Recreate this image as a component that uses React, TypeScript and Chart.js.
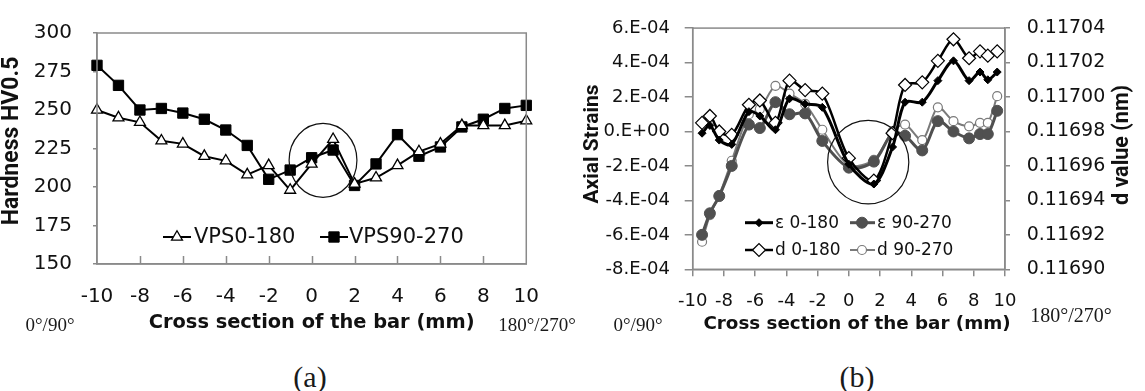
import React, { useEffect, useRef } from 'react';
import { Chart, registerables } from 'chart.js';

Chart.register(...registerables);

// ---------------- (a) hardness profile ----------------
const hardnessPositions = [-10, -9, -8, -7, -6, -5, -4, -3, -2, -1, 0, 1, 2, 3, 4, 5, 6, 7, 8, 9, 10];
const hardnessVps0_180 = [250, 245, 242, 230, 228, 220, 217, 208, 214, 198, 215, 231, 202, 206, 214, 223, 228, 240, 240, 240, 243];
const hardnessVps90_270 = [279, 266, 250, 251, 248, 244, 237, 227, 205, 211, 219, 224, 201, 215, 234, 220, 226, 239, 244, 251, 253];
const hardnessXTicks = [-10, -8, -6, -4, -2, 0, 2, 4, 6, 8, 10];
const hardnessYTicks = [150, 175, 200, 225, 250, 275, 300];

// ---------------- (b) axial strains / d value ----------------
const strainPositions = [-9.4, -8.9, -8.3, -7.5, -6.4, -5.7, -4.7, -3.8, -2.8, -1.7, 0.0, 1.6, 2.8, 3.6, 4.7, 5.7, 6.7, 7.7, 8.4, 8.9, 9.5];
const strainEps0_180 = [-0.1e-4, 0.35e-4, -0.5e-4, -0.75e-4, 1.15e-4, 0.9e-4, 0.1e-4, 1.9e-4, 1.6e-4, 1.4e-4, -1.9e-4, -3.05e-4, -0.9e-4, 1.7e-4, 1.7e-4, 2.95e-4, 4.1e-4, 2.95e-4, 3.45e-4, 3.0e-4, 3.45e-4];
const strainEps90_270 = [-6.0e-4, -4.75e-4, -3.75e-4, -2.0e-4, 0.4e-4, 0.2e-4, 1.7e-4, 1.0e-4, 1.05e-4, -0.55e-4, -2.1e-4, -1.75e-4, -0.1e-4, -0.25e-4, -1.1e-4, 0.6e-4, 0.0, -0.4e-4, -0.15e-4, -0.15e-4, 1.2e-4];
const dValue0_180 = [0.116985, 0.116989, 0.11698, 0.116978, 0.1169955, 0.116998, 0.116985, 0.1170095, 0.117004, 0.117002, 0.1169645, 0.1169515, 0.116979, 0.117007, 0.1170085, 0.117021, 0.1170335, 0.1170225, 0.1170265, 0.117024, 0.1170265];
const dValue90_270 = [0.116916, 0.1169315, 0.116943, 0.116963, 0.11699, 0.116993, 0.1170065, 0.117002, 0.116996, 0.116981, 0.1169605, 0.1169635, 0.11698, 0.116984, 0.116975, 0.116994, 0.116986, 0.116983, 0.116985, 0.116985, 0.1170005];
const strainXTicks = [-10, -8, -6, -4, -2, 0, 2, 4, 6, 8, 10];
const strainYTicks = [-8e-4, -6e-4, -4e-4, -2e-4, 0, 2e-4, 4e-4, 6e-4];
const strainYTickLabels = ['-8.E-04', '-6.E-04', '-4.E-04', '-2.E-04', '0.E+00', '2.E-04', '4.E-04', '6.E-04'];
const dValueTicks = [0.1169, 0.11692, 0.11694, 0.11696, 0.11698, 0.117, 0.11702, 0.11704];
const dValueTickLabels = ['0.11690', '0.11692', '0.11694', '0.11696', '0.11698', '0.11700', '0.11702', '0.11704'];

const FRAME = '#8a8a8a';
const TEXT = '#111';

function drawMarker(ctx: CanvasRenderingContext2D, style: string, x: number, y: number, r: number, fill: string, stroke: string, lw: number) {
  ctx.save();
  ctx.beginPath();
  if (style === 'circle') {
    ctx.arc(x, y, r, 0, Math.PI * 2);
  } else if (style === 'rect') {
    const s = r * Math.SQRT1_2;
    ctx.rect(x - s, y - s, 2 * s, 2 * s);
  } else if (style === 'rectRot') {
    ctx.moveTo(x - r, y);
    ctx.lineTo(x, y - r);
    ctx.lineTo(x + r, y);
    ctx.lineTo(x, y + r);
    ctx.closePath();
  } else if (style === 'triangle') {
    for (let k = 0; k < 3; k++) {
      const ang = (k * 2 * Math.PI) / 3;
      const px = x + Math.sin(ang) * r;
      const py = y - Math.cos(ang) * r;
      if (k === 0) ctx.moveTo(px, py);
      else ctx.lineTo(px, py);
    }
    ctx.closePath();
  }
  ctx.fillStyle = fill;
  ctx.fill();
  if (lw > 0) {
    ctx.lineWidth = lw;
    ctx.strokeStyle = stroke;
    ctx.stroke();
  }
  ctx.restore();
}

type LegendItem = { index: number; x1: number; x2: number; mx: number; tx: number; y: number };
type RotTitle = { text: string; x: number; y: number; font: string };
type OverlayCfg = {
  yAxis: string;
  innerXTicks?: number[];
  ellipse: { cx: number; cy: number; rx: number; ry: number };
  legend: LegendItem[];
  legendFont: string;
  rotTitles: RotTitle[];
  xTitle?: { text: string; x: number; y: number; font: string };
};

function makeOverlay(cfg: OverlayCfg) {
  return {
    id: 'overlay',
    afterDraw(chart: any) {
      const { ctx, chartArea: a, scales } = chart;
      const xs = scales.x;
      const ys = scales[cfg.yAxis];
      ctx.save();
      // frame
      ctx.strokeStyle = FRAME;
      ctx.lineWidth = 1.5;
      ctx.strokeRect(a.left, a.top, a.right - a.left, a.bottom - a.top);
      // inside tick marks
      if (cfg.innerXTicks) {
        ctx.beginPath();
        cfg.innerXTicks.forEach((v) => {
          const px = Math.round(xs.getPixelForValue(v)) + 0.5;
          ctx.moveTo(px, a.bottom);
          ctx.lineTo(px, a.bottom - 8);
        });
        ctx.stroke();
      }
      // highlight ellipse
      const e = cfg.ellipse;
      const cx = xs.getPixelForValue(e.cx);
      const cy = ys.getPixelForValue(e.cy);
      const rx = Math.abs(xs.getPixelForValue(e.cx + e.rx) - cx);
      const ry = Math.abs(ys.getPixelForValue(e.cy + e.ry) - cy);
      ctx.beginPath();
      ctx.ellipse(cx, cy, rx, ry, 0, 0, Math.PI * 2);
      ctx.strokeStyle = '#111';
      ctx.lineWidth = 1.2;
      ctx.stroke();
      // legend
      ctx.font = cfg.legendFont;
      ctx.textAlign = 'left';
      ctx.textBaseline = 'middle';
      cfg.legend.forEach((it) => {
        const ds = chart.data.datasets[it.index];
        ctx.beginPath();
        ctx.moveTo(it.x1, it.y);
        ctx.lineTo(it.x2, it.y);
        ctx.strokeStyle = ds.borderColor;
        ctx.lineWidth = ds.borderWidth;
        ctx.stroke();
        drawMarker(ctx, ds.pointStyle, it.mx, it.y, ds.pointRadius, ds.pointBackgroundColor, ds.pointBorderColor, ds.pointBorderWidth);
        ctx.fillStyle = TEXT;
        ctx.fillText(ds.label, it.tx, it.y + 1);
      });
      // horizontal axis title
      if (cfg.xTitle) {
        ctx.font = cfg.xTitle.font;
        ctx.textAlign = 'center';
        ctx.textBaseline = 'middle';
        ctx.fillStyle = TEXT;
        ctx.fillText(cfg.xTitle.text, cfg.xTitle.x, cfg.xTitle.y);
      }
      // rotated axis titles
      cfg.rotTitles.forEach((t) => {
        ctx.save();
        ctx.translate(t.x, t.y);
        ctx.rotate(-Math.PI / 2);
        ctx.font = t.font;
        ctx.textAlign = 'center';
        ctx.textBaseline = 'middle';
        ctx.fillStyle = TEXT;
        ctx.fillText(t.text, 0, 0);
        ctx.restore();
      });
      ctx.restore();
    },
  };
}

const serifLabels = [
  { text: '0°/90°', cx: 50, cy: 325, size: 19 },
  { text: '180°/270°', cx: 537, cy: 325, size: 19 },
  { text: '0°/90°', cx: 638, cy: 325, size: 19 },
  { text: '180°/270°', cx: 1071, cy: 315, size: 20 },
  { text: '(a)', cx: 310, cy: 377, size: 30 },
  { text: '(b)', cx: 857, cy: 377, size: 30 },
];

export default function App() {
  const refA = useRef<HTMLCanvasElement>(null);
  const refB = useRef<HTMLCanvasElement>(null);

  useEffect(() => {
    Chart.defaults.font.family = "'DejaVu Sans'";
    Chart.defaults.color = TEXT;

    const chartA = new Chart(refA.current as HTMLCanvasElement, {
      type: 'line',
      data: {
        datasets: [
          {
            label: 'VPS0-180',
            data: hardnessPositions.map((x, i) => ({ x, y: hardnessVps0_180[i] })),
            borderColor: '#000',
            borderWidth: 2,
            pointStyle: 'triangle',
            pointRadius: 6.3,
            pointBackgroundColor: '#fff',
            pointBorderColor: '#000',
            pointBorderWidth: 1.3,
            tension: 0,
            clip: false,
          } as any,
          {
            label: 'VPS90-270',
            data: hardnessPositions.map((x, i) => ({ x, y: hardnessVps90_270[i] })),
            borderColor: '#000',
            borderWidth: 2,
            pointStyle: 'rect',
            pointRadius: 7.3,
            pointBackgroundColor: '#000',
            pointBorderColor: '#000',
            pointBorderWidth: 1,
            tension: 0,
            clip: false,
          } as any,
        ],
      },
      options: {
        animation: false,
        responsive: false,
        devicePixelRatio: 1,
        layout: { padding: { top: 19, right: 7, left: 0, bottom: 0 } },
        plugins: { legend: { display: false }, tooltip: { enabled: false } },
        scales: {
          x: {
            type: 'linear',
            min: -10,
            max: 10,
            afterBuildTicks: (s: any) => { s.ticks = hardnessXTicks.map((v) => ({ value: v })); },
            afterFit: (s: any) => { s.height = 76; },
            grid: { drawOnChartArea: false, drawTicks: false },
            border: { color: FRAME, width: 1.5 },
            ticks: { padding: 21, font: { size: 20 }, color: TEXT, maxRotation: 0, autoSkip: false, callback: (v: any) => String(v) },
            title: { display: true, text: 'Cross section of the bar (mm)', color: TEXT, font: { size: 19.4, weight: 'bold' }, padding: { top: 0, bottom: 5.5 } },
          },
          y: {
            type: 'linear',
            min: 150,
            max: 300,
            afterBuildTicks: (s: any) => { s.ticks = hardnessYTicks.map((v) => ({ value: v })); },
            afterFit: (s: any) => { s.width = 97; },
            grid: { drawOnChartArea: false, drawTicks: true, tickLength: 4, color: FRAME, lineWidth: 1.5 },
            border: { color: FRAME, width: 1.5 },
            ticks: { padding: 21, font: { size: 20 }, color: TEXT, autoSkip: false, callback: (v: any) => String(v) },
          },
        },
      } as any,
      plugins: [
        makeOverlay({
          yAxis: 'y',
          innerXTicks: hardnessXTicks.slice(1, -1),
          ellipse: { cx: 0.53, cy: 217.3, rx: 1.58, ry: 24 },
          legendFont: "21px 'DejaVu Sans'",
          legend: [
            { index: 0, x1: 163, x2: 191, mx: 177, tx: 194, y: 237 },
            { index: 1, x1: 320, x2: 348, mx: 334, tx: 349, y: 237 },
          ],
          rotTitles: [{ text: 'Hardness HV0.5', x: 12, y: 141, font: "bold 23px Roboto" }],
        }) as any,
      ],
    });

    const chartB = new Chart(refB.current as HTMLCanvasElement, {
      type: 'line',
      data: {
        datasets: [
          {
            label: 'ε 0-180',
            data: strainPositions.map((x, i) => ({ x, y: strainEps0_180[i] })),
            yAxisID: 'y',
            borderColor: '#000',
            borderWidth: 3,
            pointStyle: 'rectRot',
            pointRadius: 4,
            pointBackgroundColor: '#000',
            pointBorderColor: '#000',
            pointBorderWidth: 1,
            tension: 0.3,
            clip: false,
          } as any,
          {
            label: 'd 0-180',
            data: strainPositions.map((x, i) => ({ x, y: dValue0_180[i] })),
            yAxisID: 'y1',
            borderColor: '#000',
            borderWidth: 2.5,
            pointStyle: 'rectRot',
            pointRadius: 6.5,
            pointBackgroundColor: '#fff',
            pointBorderColor: '#000',
            pointBorderWidth: 1.2,
            tension: 0.3,
            clip: false,
          } as any,
          {
            label: 'ε 90-270',
            data: strainPositions.map((x, i) => ({ x, y: strainEps90_270[i] })),
            yAxisID: 'y',
            borderColor: '#505050',
            borderWidth: 3,
            pointStyle: 'circle',
            pointRadius: 5.5,
            pointBackgroundColor: '#505050',
            pointBorderColor: '#505050',
            pointBorderWidth: 1,
            tension: 0.3,
            clip: false,
          } as any,
          {
            label: 'd 90-270',
            data: strainPositions.map((x, i) => ({ x, y: dValue90_270[i] })),
            yAxisID: 'y1',
            borderColor: '#7a7a7a',
            borderWidth: 2,
            pointStyle: 'circle',
            pointRadius: 4.5,
            pointBackgroundColor: '#fff',
            pointBorderColor: '#7a7a7a',
            pointBorderWidth: 1.2,
            tension: 0.3,
            clip: false,
          } as any,
        ],
      },
      options: {
        animation: false,
        responsive: false,
        devicePixelRatio: 1,
        layout: { padding: { top: 20.7, right: 0, left: 0, bottom: 0 } },
        plugins: { legend: { display: false }, tooltip: { enabled: false } },
        scales: {
          x: {
            type: 'linear',
            min: -10,
            max: 10,
            afterBuildTicks: (s: any) => { s.ticks = strainXTicks.map((v) => ({ value: v })); },
            afterFit: (s: any) => { s.height = 70.7; },
            grid: { drawOnChartArea: false, drawTicks: true, tickLength: 7, color: FRAME, lineWidth: 1.5 },
            border: { color: FRAME, width: 1.5 },
            ticks: { padding: 14.6, font: { size: 18 }, color: TEXT, maxRotation: 0, autoSkip: false, callback: (v: any) => String(v) },
          },
          y: {
            type: 'linear',
            position: 'left',
            min: -8e-4,
            max: 6e-4,
            afterBuildTicks: (s: any) => { s.ticks = strainYTicks.map((v) => ({ value: v })); },
            afterFit: (s: any) => { s.width = 132.7; },
            grid: { drawOnChartArea: false, drawTicks: true, tickLength: 8, color: FRAME, lineWidth: 1.5 },
            border: { color: FRAME, width: 1.5 },
            ticks: { padding: 14.7, font: { size: 18 }, color: TEXT, autoSkip: false, callback: (_v: any, i: number) => strainYTickLabels[i] },
          },
          y1: {
            type: 'linear',
            position: 'right',
            min: 0.1169,
            max: 0.11704,
            afterBuildTicks: (s: any) => { s.ticks = dValueTicks.map((v) => ({ value: v })); },
            afterFit: (s: any) => { s.width = 140; },
            grid: { drawOnChartArea: false, drawTicks: true, tickLength: 5, color: FRAME, lineWidth: 1.5 },
            border: { color: FRAME, width: 1.5 },
            ticks: { padding: 16.7, font: { size: 19 }, color: TEXT, autoSkip: false, callback: (_v: any, i: number) => dValueTickLabels[i] },
          },
        },
      } as any,
      plugins: [
        makeOverlay({
          yAxis: 'y',
          ellipse: { cx: 1.24, cy: -1.78e-4, rx: 2.6, ry: 2.42e-4 },
          legendFont: "17px 'DejaVu Sans'",
          legend: [
            { index: 0, x1: 185, x2: 213, mx: 199, tx: 215, y: 222.7 },
            { index: 2, x1: 290, x2: 315, mx: 302, tx: 317, y: 222.7 },
            { index: 1, x1: 185, x2: 213, mx: 199, tx: 215, y: 250 },
            { index: 3, x1: 290, x2: 315, mx: 302, tx: 317, y: 250 },
          ],
          xTitle: { text: 'Cross section of the bar (mm)', x: 297, y: 324, font: "bold 18.3px 'DejaVu Sans'" },
          rotTitles: [
            { text: 'Axial Strains', x: 33, y: 144, font: "bold 21px Roboto" },
            { text: 'd value (nm)', x: 563, y: 145, font: "bold 21.5px Roboto" },
          ],
        }) as any,
      ],
    });

    return () => {
      chartA.destroy();
      chartB.destroy();
    };
  }, []);

  return (
    <div style={{ position: 'absolute', left: 0, top: 0, width: 1145, height: 391, background: '#fff', overflow: 'hidden' }}>
      <canvas ref={refA} width={560} height={340} style={{ position: 'absolute', left: 0, top: 0, width: 560, height: 340 }} />
      <canvas ref={refB} width={585} height={340} style={{ position: 'absolute', left: 560, top: 0, width: 585, height: 340 }} />
      {serifLabels.map((l, i) => (
        <div
          key={i}
          style={{
            position: 'absolute',
            left: l.cx - 80,
            width: 160,
            top: l.cy - l.size * 0.6,
            height: l.size * 1.2,
            lineHeight: `${l.size * 1.2}px`,
            fontSize: l.size,
            fontFamily: "'Liberation Serif', serif",
            textAlign: 'center',
            color: '#1a1a1a',
            whiteSpace: 'nowrap',
          }}
        >
          {l.text}
        </div>
      ))}
    </div>
  );
}
